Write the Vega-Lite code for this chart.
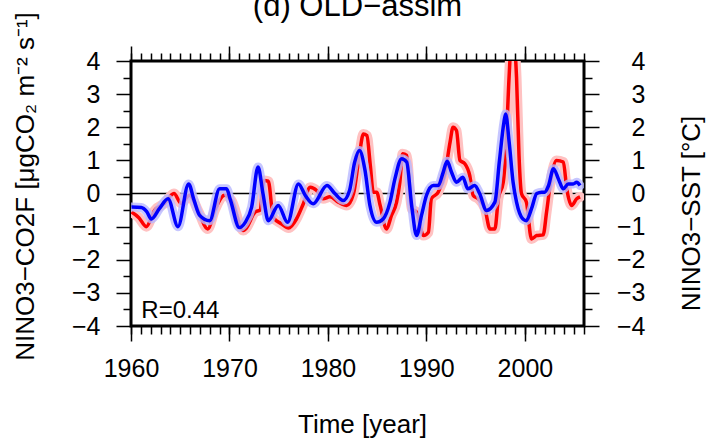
{
  "$schema": "https://vega.github.io/schema/vega-lite/v6.json",
  "width": 453,
  "height": 265,
  "autosize": "none",
  "padding": {"left": 131, "top": 61, "right": 128, "bottom": 113},
  "background": "white",
  "title": {"text": "(d) OLD−assim", "font": "Liberation Sans", "fontSize": 31, "fontWeight": "normal", "color": "black", "anchor": "middle", "baseline": "alphabetic", "offset": 0, "dy": 35},
  "config": {
    "view": {"stroke": "black", "strokeWidth": 3},
    "font": "Liberation Sans",
    "axis": {"domain": false, "grid": false, "tickColor": "black", "tickWidth": 1.5, "labelColor": "black", "labelFont": "Liberation Sans", "labelFontSize": 25, "titleFont": "Liberation Sans", "titleFontSize": 26, "titleFontWeight": "normal", "titleColor": "black", "labelFlush": false, "labelOverlap": false, "labelBound": false}
  },
  "datasets": {
    "co2f": [
      {"year": 1960.05, "value": -0.56}, {"year": 1960.8, "value": -0.73}, {"year": 1961.55, "value": -1.0}, {"year": 1962.4, "value": -0.51},
      {"year": 1963.4, "value": -0.3}, {"year": 1964.36, "value": 0.0}, {"year": 1965.1, "value": -0.3}, {"year": 1965.95, "value": -0.05},
      {"year": 1966.8, "value": -0.51}, {"year": 1967.8, "value": -1.07}, {"year": 1968.5, "value": -0.51}, {"year": 1969.5, "value": -0.05},
      {"year": 1970.2, "value": -0.21}, {"year": 1971.4, "value": -1.12}, {"year": 1971.7, "value": -1.05}, {"year": 1972.6, "value": -0.56},
      {"year": 1973.1, "value": -0.5}, {"year": 1973.5, "value": 0.39}, {"year": 1973.94, "value": 0.37}, {"year": 1974.45, "value": -0.72},
      {"year": 1975.3, "value": -0.92}, {"year": 1976.0, "value": -1.04}, {"year": 1976.8, "value": -0.77}, {"year": 1977.5, "value": -0.31},
      {"year": 1978.2, "value": 0.19}, {"year": 1978.85, "value": 0.09}, {"year": 1979.5, "value": -0.16}, {"year": 1980.2, "value": -0.1},
      {"year": 1981.05, "value": -0.26}, {"year": 1981.9, "value": -0.36}, {"year": 1982.6, "value": 0.0}, {"year": 1983.25, "value": 1.3},
      {"year": 1983.6, "value": 1.8}, {"year": 1983.95, "value": 1.75}, {"year": 1984.3, "value": 0.85}, {"year": 1984.6, "value": 0.04},
      {"year": 1984.95, "value": 0.04}, {"year": 1985.3, "value": -0.36}, {"year": 1985.95, "value": -1.07}, {"year": 1986.45, "value": -0.66},
      {"year": 1986.97, "value": -0.26}, {"year": 1987.3, "value": 0.34}, {"year": 1987.58, "value": 1.2}, {"year": 1987.99, "value": 1.15},
      {"year": 1988.5, "value": -0.46}, {"year": 1989.0, "value": -0.56}, {"year": 1989.7, "value": -1.27}, {"year": 1990.2, "value": -1.17},
      {"year": 1990.5, "value": -0.16}, {"year": 1991.2, "value": 0.04}, {"year": 1991.9, "value": 0.64}, {"year": 1992.4, "value": 1.55},
      {"year": 1992.7, "value": 2.0}, {"year": 1993.05, "value": 1.9}, {"year": 1993.4, "value": 1.0}, {"year": 1993.9, "value": 0.9},
      {"year": 1994.4, "value": 0.54}, {"year": 1994.75, "value": -0.06}, {"year": 1995.26, "value": -0.16}, {"year": 1995.94, "value": -0.46},
      {"year": 1996.45, "value": -1.07}, {"year": 1996.95, "value": -1.07}, {"year": 1997.3, "value": -0.16}, {"year": 1997.8, "value": 0.34},
      {"year": 1998.07, "value": 1.35}, {"year": 1998.4, "value": 3.56}, {"year": 1998.6, "value": 4.5}, {"year": 1998.9, "value": 4.5},
      {"year": 1999.15, "value": 3.5}, {"year": 1999.4, "value": 1.15}, {"year": 1999.65, "value": 0.0}, {"year": 2000.15, "value": -0.26},
      {"year": 2000.67, "value": -1.37}, {"year": 2001.2, "value": -1.27}, {"year": 2001.85, "value": -1.25}, {"year": 2002.2, "value": -0.56},
      {"year": 2002.7, "value": 0.54}, {"year": 2003.2, "value": 1.0}, {"year": 2003.9, "value": 0.95}, {"year": 2004.25, "value": 0.14},
      {"year": 2004.75, "value": -0.36}, {"year": 2005.26, "value": -0.16}, {"year": 2005.6, "value": -0.1}
    ],
    "sst": [
      {"year": 1960.05, "value": -0.41}, {"year": 1961.05, "value": -0.42}, {"year": 1961.6, "value": -0.55}, {"year": 1962.06, "value": -0.77},
      {"year": 1962.9, "value": -0.45}, {"year": 1963.76, "value": -0.16}, {"year": 1964.77, "value": -1.0}, {"year": 1965.85, "value": 0.29},
      {"year": 1966.4, "value": -0.2}, {"year": 1966.97, "value": -0.66}, {"year": 1967.98, "value": -0.82}, {"year": 1969.0, "value": 0.14},
      {"year": 1969.7, "value": 0.14}, {"year": 1970.1, "value": -0.2}, {"year": 1971.0, "value": -1.03}, {"year": 1971.6, "value": -0.87},
      {"year": 1972.25, "value": -0.41}, {"year": 1972.9, "value": 0.8}, {"year": 1973.4, "value": 0.0}, {"year": 1973.94, "value": -0.82},
      {"year": 1974.95, "value": -0.36}, {"year": 1975.9, "value": -0.87}, {"year": 1977.0, "value": 0.29}, {"year": 1977.7, "value": -0.06},
      {"year": 1978.5, "value": -0.31}, {"year": 1979.9, "value": 0.24}, {"year": 1980.7, "value": 0.0}, {"year": 1981.55, "value": -0.21},
      {"year": 1982.2, "value": 0.1}, {"year": 1982.7, "value": 0.93}, {"year": 1983.2, "value": 1.3}, {"year": 1983.75, "value": 0.72},
      {"year": 1984.26, "value": -0.36}, {"year": 1984.94, "value": -0.87}, {"year": 1985.6, "value": -0.77}, {"year": 1986.3, "value": -0.26},
      {"year": 1986.8, "value": 0.44}, {"year": 1987.48, "value": 1.05}, {"year": 1987.99, "value": 0.95}, {"year": 1988.5, "value": -0.36},
      {"year": 1989.0, "value": -1.27}, {"year": 1989.5, "value": -0.66}, {"year": 1990.0, "value": -0.06}, {"year": 1990.7, "value": 0.24},
      {"year": 1991.2, "value": 0.24}, {"year": 1991.7, "value": 0.64}, {"year": 1992.1, "value": 0.97}, {"year": 1992.55, "value": 0.64},
      {"year": 1993.05, "value": 0.34}, {"year": 1993.7, "value": 0.49}, {"year": 1994.2, "value": 0.14}, {"year": 1994.9, "value": 0.24},
      {"year": 1995.4, "value": 0.0}, {"year": 1996.1, "value": -0.51}, {"year": 1996.95, "value": -0.26}, {"year": 1997.4, "value": 0.95},
      {"year": 1997.87, "value": 2.15}, {"year": 1998.04, "value": 2.4}, {"year": 1998.4, "value": 1.55}, {"year": 1998.8, "value": 0.34},
      {"year": 1999.15, "value": -0.26}, {"year": 1999.8, "value": -0.77}, {"year": 2000.15, "value": -0.82}, {"year": 2000.67, "value": -0.46},
      {"year": 2001.2, "value": 0.0}, {"year": 2001.7, "value": 0.04}, {"year": 2002.0, "value": 0.04}, {"year": 2002.4, "value": 0.24},
      {"year": 2002.9, "value": 0.75}, {"year": 2003.4, "value": 0.44}, {"year": 2003.9, "value": 0.14}, {"year": 2004.4, "value": 0.29},
      {"year": 2004.9, "value": 0.29}, {"year": 2005.26, "value": 0.34}, {"year": 2005.6, "value": 0.24}
    ],
    "dummy": [{"year": 1960, "value": 0}],
    "note": [{"label": "R=0.44"}]
  },
  "resolve": {"scale": {"x": "independent", "y": "independent"}},
  "layer": [
    {
      "layer": [
        {
          "data": {"name": "dummy"},
          "mark": {"type": "rule", "color": "black", "strokeWidth": 1.5},
          "encoding": {
            "x": {"datum": 1960, "type": "quantitative", "scale": {"domain": [1960, 2006], "nice": false, "zero": false}, "axis": null},
            "x2": {"datum": 2006},
            "y": {"datum": 0, "type": "quantitative", "scale": {"domain": [-4, 4], "nice": false}, "axis": null}
          }
        },
        {
          "data": {"name": "co2f"},
          "mark": {"type": "line", "color": "#ffc2c2", "strokeWidth": 10, "clip": true, "interpolate": "monotone", "strokeCap": "round", "strokeJoin": "round"},
          "encoding": {
            "x": {"field": "year", "type": "quantitative", "axis": null},
            "y": {"field": "value", "type": "quantitative", "axis": null}
          }
        },
        {
          "data": {"name": "co2f"},
          "mark": {"type": "line", "color": "#ff0000", "strokeWidth": 3.5, "clip": true, "interpolate": "monotone"},
          "encoding": {
            "x": {"field": "year", "type": "quantitative", "axis": null},
            "y": {"field": "value", "type": "quantitative", "axis": null}
          }
        },
        {
          "data": {"name": "sst"},
          "mark": {"type": "line", "color": "#b8b8ff", "strokeWidth": 9, "opacity": 0.8, "clip": true, "interpolate": "monotone", "strokeCap": "round", "strokeJoin": "round"},
          "encoding": {
            "x": {"field": "year", "type": "quantitative", "axis": null},
            "y": {"field": "value", "type": "quantitative", "axis": null}
          }
        },
        {
          "data": {"name": "sst"},
          "mark": {"type": "line", "color": "#0000ff", "strokeWidth": 3.5, "clip": true, "interpolate": "monotone"},
          "encoding": {
            "x": {"field": "year", "type": "quantitative", "axis": null},
            "y": {"field": "value", "type": "quantitative", "axis": null}
          }
        },
        {
          "data": {"name": "note"},
          "mark": {"type": "text", "fontSize": 24, "align": "left", "baseline": "alphabetic", "color": "black", "font": "Liberation Sans"},
          "encoding": {
            "text": {"field": "label"},
            "x": {"datum": 1961.05, "type": "quantitative", "axis": null},
            "y": {"datum": -3.77, "type": "quantitative", "axis": null}
          }
        }
      ]
    },
    {
      "data": {"name": "dummy"},
      "mark": {"type": "point", "opacity": 0},
      "encoding": {
        "x": {"field": "year", "type": "quantitative", "scale": {"domain": [1960, 2006], "nice": false, "zero": false},
              "axis": {"orient": "bottom", "values": [1960, 1970, 1980, 1990, 2000], "format": "d", "tickSize": 15, "labelPadding": 15, "title": "Time [year]", "titleX": 231, "titleY": 106, "titleBaseline": "alphabetic", "titleAnchor": "middle", "titleAlign": "center"}},
        "y": {"field": "value", "type": "quantitative", "scale": {"domain": [-4, 4], "nice": false},
              "axis": {"orient": "left", "values": [-4, -3, -2, -1, 0, 1, 2, 3, 4], "tickSize": 15, "labelPadding": 16, "title": "NINO3−CO2F [μgCO₂ m⁻² s⁻¹]", "titleAngle": 270, "titleX": -106, "titleY": 125, "titleAlign": "center", "titleBaseline": "middle"}}
      }
    },
    {
      "data": {"name": "dummy"},
      "mark": {"type": "point", "opacity": 0},
      "encoding": {
        "x": {"field": "year", "type": "quantitative", "scale": {"domain": [1960, 2006], "nice": false, "zero": false},
              "axis": {"orient": "bottom", "values": [1960,1961,1962,1963,1964,1965,1966,1967,1968,1969,1970,1971,1972,1973,1974,1975,1976,1977,1978,1979,1980,1981,1982,1983,1984,1985,1986,1987,1988,1989,1990,1991,1992,1993,1994,1995,1996,1997,1998,1999,2000,2001,2002,2003,2004,2005,2006], "tickSize": 8, "labels": false, "title": null}},
        "y": {"field": "value", "type": "quantitative", "scale": {"domain": [-4, 4], "nice": false},
              "axis": {"orient": "left", "values": [-3.5, -2.5, -1.5, -0.5, 0.5, 1.5, 2.5, 3.5], "tickSize": 8, "labels": false, "title": null}}
      }
    },
    {
      "data": {"name": "dummy"},
      "mark": {"type": "point", "opacity": 0},
      "encoding": {
        "x": {"field": "year", "type": "quantitative", "scale": {"domain": [1960, 2006], "nice": false, "zero": false},
              "axis": {"orient": "top", "values": [1960, 1970, 1980, 1990, 2000], "tickSize": 15, "labels": false, "title": null}},
        "y": {"field": "value", "type": "quantitative", "scale": {"domain": [-4, 4], "nice": false},
              "axis": {"orient": "right", "values": [-4, -3, -2, -1, 0, 1, 2, 3, 4], "tickSize": 15, "labelAlign": "right", "labelPadding": 46, "title": "NINO3−SST [°C]", "titleAngle": 270, "titleX": 107, "titleY": 152, "titleAlign": "center", "titleBaseline": "middle"}}
      }
    },
    {
      "data": {"name": "dummy"},
      "mark": {"type": "point", "opacity": 0},
      "encoding": {
        "x": {"field": "year", "type": "quantitative", "scale": {"domain": [1960, 2006], "nice": false, "zero": false},
              "axis": {"orient": "top", "values": [1960,1961,1962,1963,1964,1965,1966,1967,1968,1969,1970,1971,1972,1973,1974,1975,1976,1977,1978,1979,1980,1981,1982,1983,1984,1985,1986,1987,1988,1989,1990,1991,1992,1993,1994,1995,1996,1997,1998,1999,2000,2001,2002,2003,2004,2005,2006], "tickSize": 8, "labels": false, "title": null}},
        "y": {"field": "value", "type": "quantitative", "scale": {"domain": [-4, 4], "nice": false},
              "axis": {"orient": "right", "values": [-3.5, -2.5, -1.5, -0.5, 0.5, 1.5, 2.5, 3.5], "tickSize": 8, "labels": false, "title": null}}
      }
    }
  ]
}
